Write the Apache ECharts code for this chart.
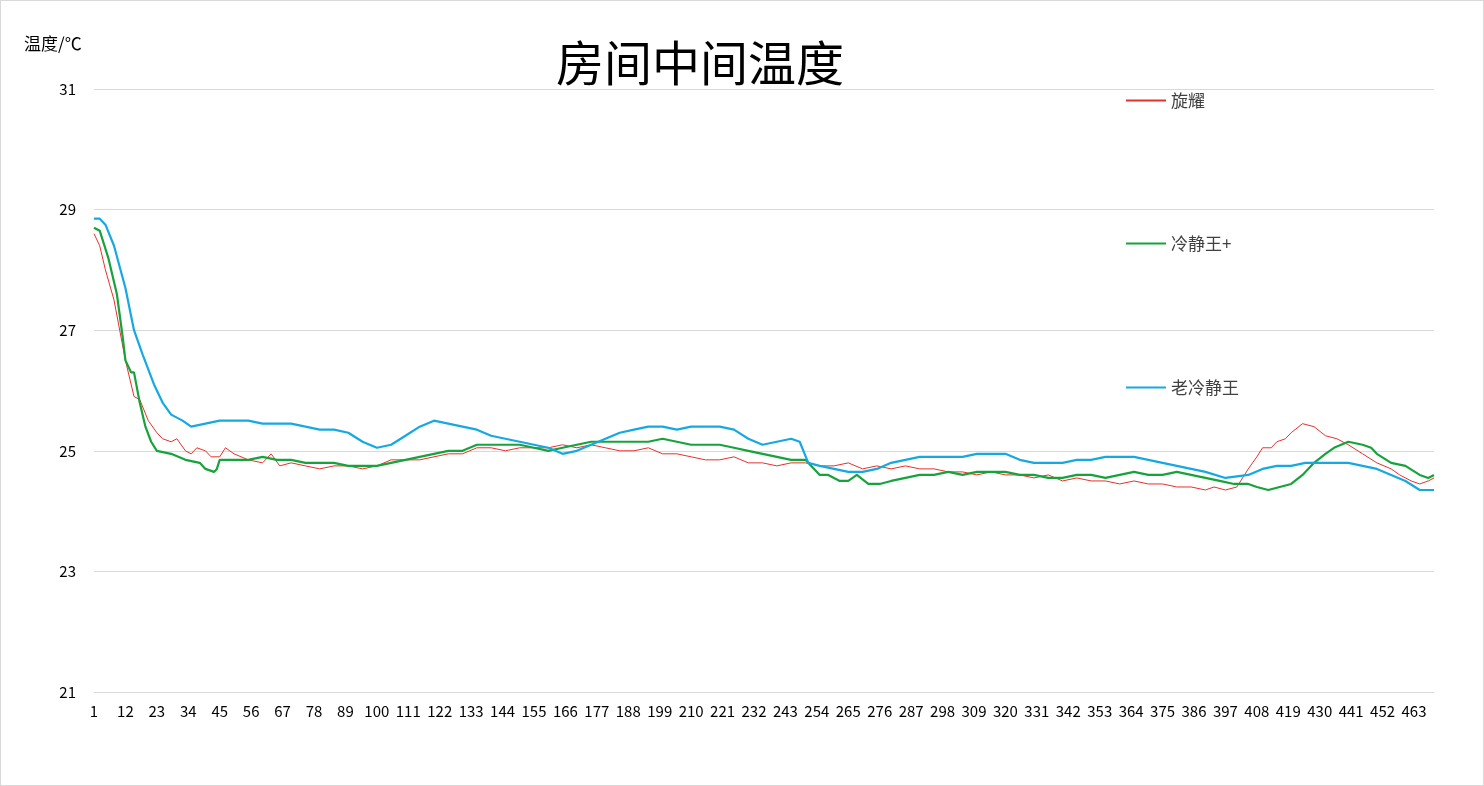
<!DOCTYPE html>
<html><head><meta charset="utf-8">
<script src="https://cdn.jsdelivr.net/npm/echarts@6/dist/echarts.min.js"></script>
<style>html,body{margin:0;padding:0;background:#fff}#c{width:1484px;height:786px;box-sizing:border-box;border:1px solid #d9d9d9}</style>
</head><body><div id="c"></div>
<script>
const N = 470;
const categories = Array.from({length: N}, (_, i) => String(i + 1));
// [index (1-based), value] samples
const xuanyao = [[1,28.6],[3,28.4],[5,28.0],[8,27.5],[10,27.0],[12,26.5],[15,25.9],[17,25.85],[20,25.5],[23,25.3],[25,25.2],[28,25.15],[30,25.2],[33,25.0],[35,24.95],[37,25.05],[40,25.0],[42,24.9],[45,24.9],[47,25.05],[50,24.95],[55,24.85],[60,24.8],[63,24.95],[66,24.75],[70,24.8],[75,24.75],[80,24.7],[85,24.75],[90,24.75],[95,24.7],[100,24.75],[105,24.85],[110,24.85],[115,24.85],[120,24.9],[125,24.95],[130,24.95],[135,25.05],[140,25.05],[145,25.0],[150,25.05],[155,25.05],[160,25.05],[165,25.1],[170,25.05],[175,25.1],[180,25.05],[185,25.0],[190,25.0],[195,25.05],[200,24.95],[205,24.95],[210,24.9],[215,24.85],[220,24.85],[225,24.9],[230,24.8],[235,24.8],[240,24.75],[245,24.8],[250,24.8],[255,24.75],[260,24.75],[265,24.8],[270,24.7],[275,24.75],[280,24.7],[285,24.75],[290,24.7],[295,24.7],[300,24.65],[305,24.65],[310,24.6],[315,24.65],[320,24.6],[325,24.6],[330,24.55],[335,24.6],[340,24.5],[345,24.55],[350,24.5],[355,24.5],[360,24.45],[365,24.5],[370,24.45],[375,24.45],[380,24.4],[385,24.4],[390,24.35],[393,24.4],[397,24.35],[401,24.4],[405,24.7],[408,24.9],[410,25.05],[413,25.05],[415,25.15],[418,25.2],[420,25.3],[424,25.45],[428,25.4],[432,25.25],[436,25.2],[440,25.1],[445,24.95],[450,24.8],[455,24.7],[458,24.6],[462,24.5],[465,24.45],[468,24.5],[470,24.55]];
const lengjingPlus = [[1,28.7],[3,28.65],[6,28.2],[9,27.6],[11,26.9],[12,26.5],[14,26.3],[15,26.3],[17,25.8],[19,25.4],[21,25.15],[23,25.0],[28,24.95],[33,24.85],[38,24.8],[40,24.7],[43,24.65],[44,24.7],[45,24.85],[50,24.85],[55,24.85],[60,24.9],[65,24.85],[70,24.85],[75,24.8],[80,24.8],[85,24.8],[90,24.75],[95,24.75],[100,24.75],[105,24.8],[110,24.85],[115,24.9],[120,24.95],[125,25.0],[130,25.0],[135,25.1],[140,25.1],[145,25.1],[150,25.1],[155,25.05],[160,25.0],[165,25.05],[170,25.1],[175,25.15],[180,25.15],[185,25.15],[190,25.15],[195,25.15],[200,25.2],[205,25.15],[210,25.1],[215,25.1],[220,25.1],[225,25.05],[230,25.0],[235,24.95],[240,24.9],[245,24.85],[250,24.85],[255,24.6],[258,24.6],[262,24.5],[265,24.5],[268,24.6],[272,24.45],[276,24.45],[280,24.5],[285,24.55],[290,24.6],[295,24.6],[300,24.65],[305,24.6],[310,24.65],[315,24.65],[320,24.65],[325,24.6],[330,24.6],[335,24.55],[340,24.55],[345,24.6],[350,24.6],[355,24.55],[360,24.6],[365,24.65],[370,24.6],[375,24.6],[380,24.65],[385,24.6],[390,24.55],[395,24.5],[400,24.45],[405,24.45],[408,24.4],[412,24.35],[416,24.4],[420,24.45],[424,24.6],[428,24.8],[432,24.95],[435,25.05],[440,25.15],[445,25.1],[448,25.05],[450,24.95],[455,24.8],[460,24.75],[465,24.6],[468,24.55],[470,24.6]];
const lengjingOld = [[1,28.85],[3,28.85],[5,28.75],[8,28.4],[12,27.7],[15,27.0],[18,26.6],[22,26.1],[25,25.8],[28,25.6],[32,25.5],[35,25.4],[40,25.45],[45,25.5],[50,25.5],[55,25.5],[60,25.45],[65,25.45],[70,25.45],[75,25.4],[80,25.35],[85,25.35],[90,25.3],[95,25.15],[100,25.05],[105,25.1],[110,25.25],[115,25.4],[120,25.5],[125,25.45],[130,25.4],[135,25.35],[140,25.25],[145,25.2],[150,25.15],[155,25.1],[160,25.05],[165,24.95],[170,25.0],[175,25.1],[180,25.2],[185,25.3],[190,25.35],[195,25.4],[200,25.4],[205,25.35],[210,25.4],[215,25.4],[220,25.4],[225,25.35],[230,25.2],[235,25.1],[240,25.15],[245,25.2],[248,25.15],[251,24.8],[255,24.75],[260,24.7],[265,24.65],[270,24.65],[275,24.7],[280,24.8],[285,24.85],[290,24.9],[295,24.9],[300,24.9],[305,24.9],[310,24.95],[315,24.95],[320,24.95],[325,24.85],[330,24.8],[335,24.8],[340,24.8],[345,24.85],[350,24.85],[355,24.9],[360,24.9],[365,24.9],[370,24.85],[375,24.8],[380,24.75],[385,24.7],[390,24.65],[397,24.55],[405,24.6],[410,24.7],[415,24.75],[420,24.75],[425,24.8],[430,24.8],[435,24.8],[440,24.8],[445,24.75],[450,24.7],[455,24.6],[460,24.5],[465,24.35],[470,24.35]];
const toIdx = a => a.map(p => [p[0] - 1, p[1]]);
const chart = echarts.init(document.getElementById('c'));
const font = 'Microsoft YaHei, Noto Sans CJK SC, sans-serif';
const lg = (name, top) => ({data:[name], orient:'vertical', left:1120, top, itemWidth:40, itemHeight:14, itemGap:0, icon:'path://M0,0H40V2H0Z',
  textStyle:{fontSize:17, color:'#404040', fontFamily:font}});
chart.setOption({
  animation:false,
  title:{text:'房间中间温度', left:550, top:33, textStyle:{fontSize:48, fontWeight:'normal', color:'#000', fontFamily:font}},
  legend:[lg('旋耀',86), lg('冷静王+',229), lg('老冷静王',373)],
  grid:{left:93, right:49, top:88, bottom:93},
  xAxis:{type:'category', data:categories, boundaryGap:false,
    axisLine:{lineStyle:{color:'#d9d9d9'}}, axisTick:{show:false},
    axisLabel:{interval:10, color:'#000', fontSize:15, margin:12, fontFamily:font}},
  yAxis:{type:'value', min:21, max:31, interval:2, name:'温度/℃', nameLocation:'end',
    nameTextStyle:{fontSize:17, color:'#000', align:'left', padding:[0,0,22,-70], fontFamily:font},
    axisLabel:{color:'#000', fontSize:15, margin:18, fontFamily:font},
    splitLine:{lineStyle:{color:'#d9d9d9'}}},
  series:[
    {name:'旋耀', type:'line', data:toIdx(xuanyao), symbol:'none', lineStyle:{width:1, color:'#e8302b'}, itemStyle:{color:'#e8302b'}},
    {name:'冷静王+', type:'line', data:toIdx(lengjingPlus), symbol:'none', lineStyle:{width:2.2, color:'#17a33c'}, itemStyle:{color:'#17a33c'}},
    {name:'老冷静王', type:'line', data:toIdx(lengjingOld), symbol:'none', lineStyle:{width:2.2, color:'#16a9e1'}, itemStyle:{color:'#16a9e1'}}
  ]
});
</script></body></html>
